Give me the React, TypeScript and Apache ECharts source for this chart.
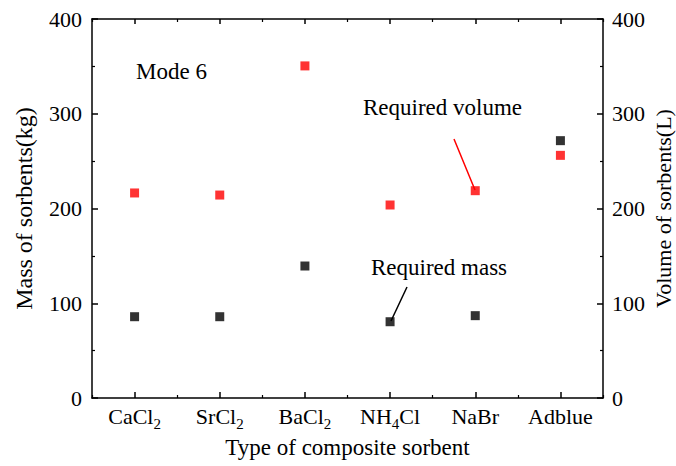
import React, { useEffect, useRef } from "react";
import * as echarts from "echarts";

const categories = ["CaCl2", "SrCl2", "BaCl2", "NH4Cl", "NaBr", "Adblue"];
const requiredMass = [85.8, 85.8, 139.3, 80.5, 86.9, 271.6];
const requiredVolume = [216.4, 214.2, 350.5, 203.7, 218.8, 256.1];
const yTicks = { min: 0, max: 400, interval: 100 };

const FONT = "Liberation Serif";

function richCat(name: string): string {
  // digits rendered as subscripts
  return name.replace(/([A-Za-z]+)|(\d+)/g, (m, a, d) => (a ? `{n|${a}}` : `{s|${d}}`));
}

export default function App() {
  const ref = useRef<HTMLDivElement>(null);
  useEffect(() => {
    if (!ref.current) return;
    const chart = echarts.init(ref.current, null, { renderer: "svg" });
    const lineStyle = { color: "#000", width: 1.5 };
    const grid = { left: 92, right: 73, top: 19, bottom: 68, outerBoundsMode: "none", containLabel: false };
    const yBase = {
      type: "value" as const,
      min: yTicks.min,
      max: yTicks.max,
      interval: yTicks.interval,
      splitLine: { show: false },
      axisLine: { show: true, lineStyle },
      axisTick: { show: true, inside: true, length: 6, lineStyle },
      minorTick: { show: true, splitNumber: 2, length: 3, lineStyle: { color: "#000", width: 1.2 } },
      axisLabel: { color: "#000", fontSize: 22, fontFamily: FONT, margin: 10 },
      nameLocation: "middle" as const,
      nameRotate: 90,
      nameMoveOverlap: false,
      nameTextStyle: { color: "#000", fontSize: 24, fontFamily: FONT },
    };
    chart.setOption({
      animation: false,
      backgroundColor: "#fff",
      textStyle: { fontFamily: FONT },
      grid,
      xAxis: [
        {
          type: "category",
          data: categories,
          position: "bottom",
          boundaryGap: true,
          axisLine: { show: true, onZero: false, lineStyle },
          axisTick: { show: true, inside: true, alignWithLabel: true, length: 6, lineStyle },
          axisLabel: {
            color: "#000",
            margin: 3,
            interval: 0,
            formatter: (v: string) => richCat(v),
            rich: {
              n: { fontSize: 22, fontFamily: FONT, color: "#000", lineHeight: 30 },
              s: { fontSize: 15, fontFamily: FONT, color: "#000", lineHeight: 10, verticalAlign: "bottom" },
            },
          },
          name: "Type of composite sorbent",
          nameLocation: "middle",
          nameGap: 38,
          nameMoveOverlap: false,
          nameTextStyle: { color: "#000", fontSize: 23, fontFamily: FONT },
        },
        {
          type: "category",
          data: categories,
          position: "bottom",
          boundaryGap: true,
          axisLine: { show: false, onZero: false },
          axisTick: { show: true, inside: true, length: 3, lineStyle: { color: "#000", width: 1.2 } },
          axisLabel: { show: false },
        },
        {
          type: "category",
          data: categories,
          position: "top",
          boundaryGap: true,
          axisLine: { show: true, onZero: false, lineStyle },
          axisTick: { show: true, inside: true, alignWithLabel: true, length: 5, lineStyle },
          axisLabel: { show: false },
        },
        {
          type: "category",
          data: categories,
          position: "top",
          boundaryGap: true,
          axisLine: { show: false, onZero: false },
          axisTick: { show: true, inside: true, length: 3, lineStyle: { color: "#000", width: 1.2 } },
          axisLabel: { show: false },
        },
      ],
      yAxis: [
        { ...yBase, position: "left", name: "Mass of sorbents(kg)", nameGap: 56 },
        {
          ...yBase,
          position: "right",
          name: "Volume of sorbents(L)",
          nameGap: 49,
          nameTextStyle: { color: "#000", fontSize: 22, fontFamily: FONT },
          axisLabel: { ...yBase.axisLabel, margin: 9 },
        },
      ],
      series: [
        {
          name: "Required mass",
          type: "scatter",
          xAxisIndex: 0,
          yAxisIndex: 0,
          symbol: "rect",
          symbolSize: 9,
          itemStyle: { color: "#000" },
          data: requiredMass,
        },
        {
          name: "Required volume",
          type: "scatter",
          xAxisIndex: 0,
          yAxisIndex: 1,
          symbol: "rect",
          symbolSize: 9,
          itemStyle: { color: "#ff0000" },
          data: requiredVolume,
        },
      ],
      graphic: [
        {
          type: "text",
          x: 136,
          y: 71,
          style: { text: "Mode 6", fontSize: 23, fontFamily: FONT, fill: "#000", verticalAlign: "middle" },
        },
        {
          type: "text",
          x: 363,
          y: 107,
          style: { text: "Required volume", fontSize: 23, fontFamily: FONT, fill: "#000", verticalAlign: "middle" },
        },
        {
          type: "text",
          x: 371,
          y: 267,
          style: { text: "Required mass", fontSize: 23, fontFamily: FONT, fill: "#000", verticalAlign: "middle" },
        },
        {
          type: "line",
          shape: { x1: 454, y1: 139, x2: 475, y2: 190 },
          style: { stroke: "#ff0000", lineWidth: 1.5 },
        },
        {
          type: "line",
          shape: { x1: 391, y1: 321, x2: 407, y2: 287 },
          style: { stroke: "#000", lineWidth: 1.5 },
        },
      ],
    });
    return () => chart.dispose();
  }, []);
  return <div ref={ref} style={{ position: "fixed", left: 0, top: 0, width: 676, height: 466 }} />;
}
